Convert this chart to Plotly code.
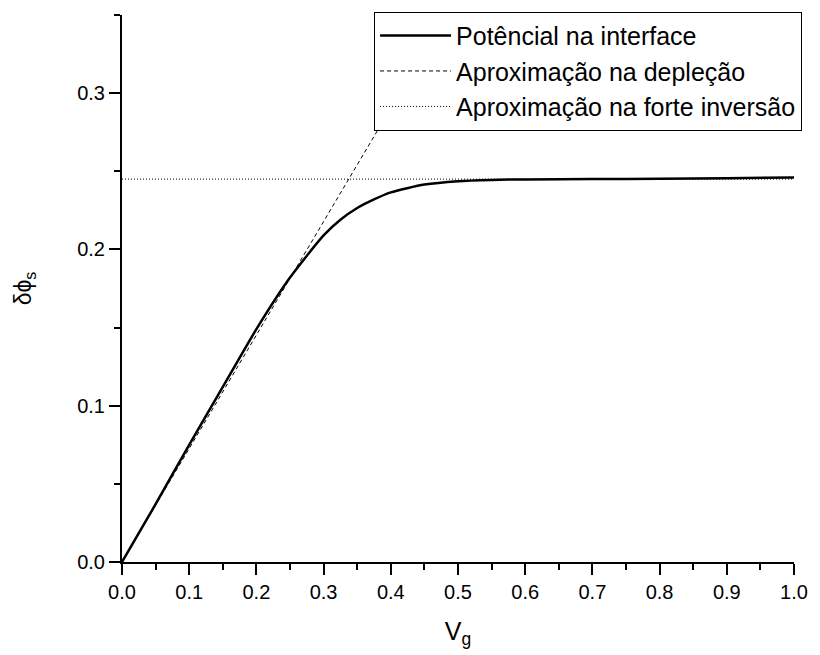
import plotly.graph_objects as go

# Data
vg = [0, 0.05, 0.1, 0.15, 0.2, 0.25, 0.3, 0.325, 0.35, 0.375, 0.4, 0.45, 0.5, 0.55, 0.6, 0.7, 0.8, 0.9, 1.0]
phi_s = [0, 0.037, 0.075, 0.112, 0.149, 0.182, 0.209, 0.219, 0.2265, 0.232, 0.2365, 0.2415, 0.2437,
         0.2445, 0.2448, 0.245, 0.2452, 0.2455, 0.2461]

depl_x = [0.0, 0.482]
depl_y = [0.0, 0.35]

inv_x = [0.0, 1.0]
inv_y = [0.245, 0.245]

names = ["Potêncial na interface", "Aproximação na depleção", "Aproximação na forte inversão"]
x_ticks = [0, 0.1, 0.2, 0.3, 0.4, 0.5, 0.6, 0.7, 0.8, 0.9, 1.0]
x_labels = ["0.0", "0.1", "0.2", "0.3", "0.4", "0.5", "0.6", "0.7", "0.8", "0.9", "1.0"]
y_ticks = [0, 0.1, 0.2, 0.3]
y_labels = ["0.0", "0.1", "0.2", "0.3"]

fig = go.Figure()
fig.add_trace(go.Scatter(x=vg, y=phi_s, mode="lines", name=names[0],
                         line=dict(color="black", width=2.5, shape="spline", smoothing=0.6)))
fig.add_trace(go.Scatter(x=depl_x, y=depl_y, mode="lines", name=names[1],
                         line=dict(color="black", width=1, dash="4px,3px")))
fig.add_trace(go.Scatter(x=inv_x, y=inv_y, mode="lines", name=names[2],
                         line=dict(color="black", width=1, dash="1px,2px")))

font_family = "Liberation Sans"

fig.update_layout(
    width=820, height=655,
    margin=dict(l=122, r=16, t=15, b=93),
    paper_bgcolor="white", plot_bgcolor="white",
    font=dict(family=font_family, color="black"),
    showlegend=True,
    legend=dict(x=1.012, y=1.006, xanchor="right", yanchor="top",
                bgcolor="white", bordercolor="black", borderwidth=1,
                font=dict(size=25, family=font_family, color="black"),
                itemwidth=71, tracegroupgap=0),
    xaxis=dict(range=[0, 1.0], tickvals=x_ticks, ticktext=x_labels,
               ticks="outside", ticklen=11, tickwidth=2, tickcolor="black",
               minor=dict(ticks="outside", ticklen=6, tickwidth=2, tickcolor="black", dtick=0.05),
               showline=True, linewidth=2, linecolor="black", showgrid=False, zeroline=False,
               tickfont=dict(size=20), title=dict(text="V<sub>g</sub>", font=dict(size=25), standoff=20)),
    yaxis=dict(range=[0, 0.35], tickvals=y_ticks, ticktext=y_labels,
               ticks="outside", ticklen=11, tickwidth=2, tickcolor="black",
               minor=dict(ticks="outside", ticklen=6, tickwidth=2, tickcolor="black", dtick=0.05),
               showline=True, linewidth=2, linecolor="black", showgrid=False, zeroline=False,
               tickfont=dict(size=20), title=dict(text="δϕ<sub>s</sub>", font=dict(size=23), standoff=39)),
)

fig.write_html("out.html")
